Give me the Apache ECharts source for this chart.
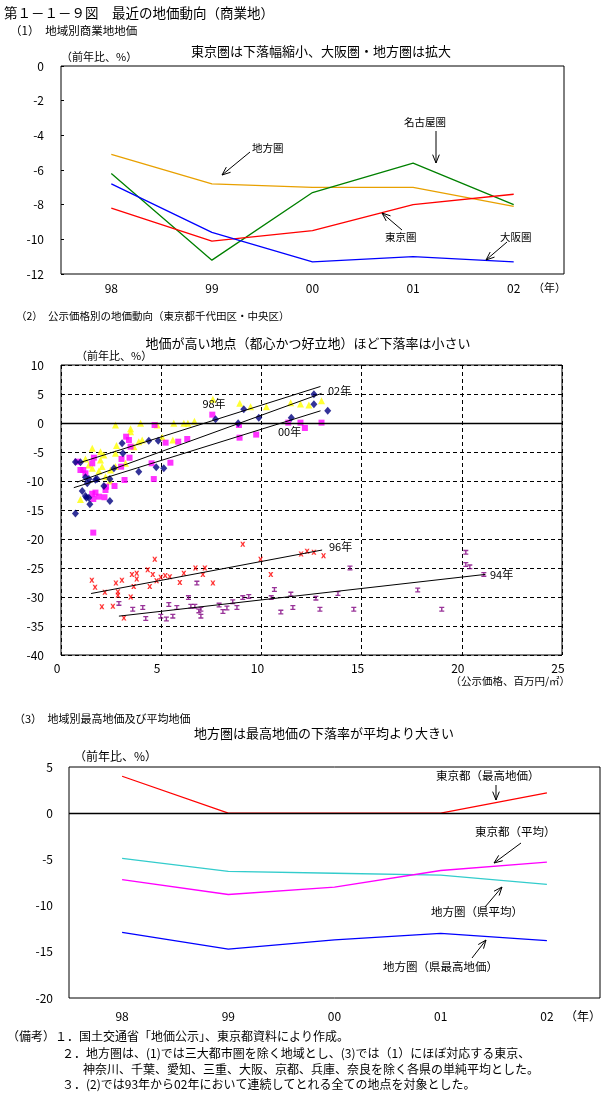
<!DOCTYPE html>
<html><head><meta charset="utf-8">
<script src="https://cdn.jsdelivr.net/npm/echarts@6/dist/echarts.min.js"></script>
<style>html,body{margin:0;padding:0;background:#fff}#c{width:614px;height:1110px}</style>
</head><body><div id="c"></div>
<script>
// ---------- DATA ----------
const years = ['98','99','00','01','02'];
// (1) 地域別商業地地価
const chihou1 = [-5.1, -6.8, -7.0, -7.0, -8.1];
const nagoya1 = [-6.2, -11.2, -7.3, -5.6, -8.0];
const tokyo1  = [-8.2, -10.1, -9.5, -8.0, -7.4];
const osaka1  = [-6.8, -9.6, -11.3, -11.0, -11.3];
// (2) 公示価格別 [価格(百万円/㎡), 前年比%]
const pts98 = [[2.72,-0.34],[3.47,-1.0],[3.47,-1.5],[3.97,-0.06],[4.8,-0.34],[5.05,-2.47],[5.58,-2.93],[5.63,-0.06],[6.13,-0.06],[6.33,-0.06],[6.66,0.3],[2.77,-3.9],[2.72,-5.2],[3.64,-4.08],[3.88,-3.22],[4.05,-2.93],[1.56,-4.37],[1.97,-4.94],[2.14,-5.5],[1.22,-6.2],[1.39,-7.24],[1.56,-7.8],[1.89,-8.28],[2.05,-7.5],[1.97,-6.38],[2.47,-8.1],[2.72,-7.5],[3.22,-6.95],[2.44,-10.0],[0.97,-13.2],[2.22,-9.25],[7.58,4.08],[8.92,3.39],[9.46,2.81],[10.25,2.81],[11.46,3.5],[11.95,3.28],[12.37,3.1],[13.0,3.85]];
const pts00 = [[4.67,-0.34],[3.25,-2.36],[3.39,-2.93],[5.22,-3.39],[5.85,-3.22],[6.3,-2.76],[3.47,-4.08],[3.02,-6.2],[3.42,-5.98],[1.64,-5.98],[1.56,-6.95],[0.81,-6.67],[0.97,-8.1],[1.11,-8.1],[1.22,-8.68],[3.0,-7.53],[3.17,-9.83],[4.52,-6.95],[4.63,-9.66],[5.46,-6.84],[2.25,-10.98],[2.22,-11.55],[2.67,-10.86],[1.56,-12.2],[1.72,-12.0],[1.61,-13.1],[1.89,-12.7],[2.17,-12.8],[1.61,-18.9],[7.55,1.44],[8.88,-0.34],[8.91,-2.53],[9.74,-2.0],[11.34,0.06],[11.95,0.06],[12.17,-0.86],[13.0,0.06]];
const pts02 = [[0.72,-6.72],[0.97,-6.78],[1.22,-9.37],[1.31,-10.4],[1.39,-9.66],[1.72,-9.8],[1.8,-9.66],[2.44,-9.66],[2.14,-10.86],[1.06,-11.72],[1.22,-12.6],[1.39,-12.9],[1.27,-12.9],[1.44,-14.0],[2.44,-13.45],[0.72,-15.6],[2.64,-7.8],[3.05,-3.5],[3.09,-5.23],[3.88,-8.39],[4.38,-3.05],[4.85,-3.05],[4.75,-7.64],[5.13,-7.8],[7.71,0.63],[9.12,2.36],[8.84,-0.06],[9.87,0.92],[11.49,0.92],[12.62,4.94],[12.62,3.22],[13.31,2.13]];
const pts96 = [[9.07,-20.9],[4.68,-23.5],[4.33,-25.3],[1.54,-27.1],[1.7,-28.3],[2.19,-29.2],[2.74,-27.6],[3.04,-27.1],[2.84,-29.1],[2.84,-29.7],[3.54,-26.1],[3.78,-25.9],[3.78,-26.9],[3.63,-28.2],[3.48,-30.0],[4.58,-26.1],[4.43,-28.2],[4.77,-27.2],[4.98,-26.6],[5.2,-26.3],[5.43,-26.5],[5.93,-27.5],[6.13,-25.9],[6.71,-25.0],[7.18,-25.0],[7.08,-26.1],[7.58,-27.6],[2.04,-31.7],[2.59,-31.6],[3.14,-33.6],[9.96,-23.5],[10.47,-26.1],[11.98,-22.6],[12.28,-22.1],[12.62,-22.3],[13.1,-22.9]];
const pts94 = [[6.78,-27.6],[6.36,-30.1],[2.89,-31.1],[3.58,-32.1],[4.08,-31.8],[4.23,-33.7],[4.98,-33.3],[5.26,-33.8],[5.38,-31.3],[5.58,-33.3],[5.78,-31.8],[6.48,-31.6],[6.68,-31.6],[6.88,-32.4],[6.98,-32.1],[6.98,-33.3],[7.89,-31.4],[8.08,-32.5],[8.28,-31.9],[8.57,-30.8],[8.78,-31.8],[9.07,-30.1],[9.37,-29.9],[10.65,-28.7],[10.49,-30.1],[10.97,-32.6],[11.47,-29.5],[11.57,-31.8],[12.72,-30.2],[12.92,-32.1],[13.82,-29.4],[14.42,-25.0],[14.61,-32.1],[17.8,-28.8],[19.0,-32.1],[20.2,-22.3],[20.2,-24.4],[20.4,-24.8],[21.1,-26.1]];
const trend98 = [[0.97,-6.8],[12.95,6.3]];
const trend02 = [[0.8,-10.2],[13.0,5.1]];
const trend00 = [[0.64,-11.15],[12.95,2.1]];
const trend96 = [[1.5,-29.4],[13.03,-21.9]];
const trend94 = [[2.89,-33.3],[21.18,-26.1]];
// (3) 地域別最高地価及び平均地価
const tokyoMax3  = [4.0, 0, 0, 0, 2.2];
const tokyoAvg3  = [-7.2, -8.8, -8.0, -6.2, -5.3];
const chihouAvg3 = [-4.9, -6.3, -6.5, -6.7, -7.7];
const chihouMax3 = [-12.9, -14.7, -13.7, -13.0, -13.8];

// ---------- STYLE ----------
const FF = '"Noto Sans CJK JP","Noto Sans",sans-serif';
const lab = (m, extra) => Object.assign({margin:m, color:'#000', fontSize:12, fontFamily:FF}, extra||{});
const dash = {show:true, lineStyle:{color:'#000', type:[4,3], width:1}};
const noLine = {show:false, onZero:false};

function txt(x, y, s, size, align, extra){
  return Object.assign({type:'text', x:x, y:y, silent:true, z:100,
    style:{text:s, fill:'#000', font:size+'px '+FF, textAlign:align||'left', textVerticalAlign:'middle'}}, extra||{});
}
function arrow(x1,y1,x2,y2){
  const a = Math.atan2(y2-y1, x2-x1), L = 9, w = 0.38;
  return [
    {type:'line', silent:true, z:100, shape:{x1,y1,x2,y2}, style:{stroke:'#000', lineWidth:1}},
    {type:'polyline', silent:true, z:100, shape:{points:[[x2-L*Math.cos(a-w), y2-L*Math.sin(a-w)],[x2,y2],[x2-L*Math.cos(a+w), y2-L*Math.sin(a+w)]]}, style:{stroke:'#000', fill:null, lineWidth:1}}
  ];
}
const line1 = (name, data, color, xi) => ({name, type:'line', xAxisIndex:xi, yAxisIndex:xi, data, symbol:'none', lineStyle:{color, width:1.3}, itemStyle:{color}, z:3});
const trend = (data) => ({type:'line', xAxisIndex:1, yAxisIndex:1, data, symbol:'none', lineStyle:{color:'#000', width:1}, z:4});
const scat = (name, data, symbol, size, color) => ({name, type:'scatter', xAxisIndex:1, yAxisIndex:1, data, symbol, symbolSize:size, itemStyle:{color}, z:3});

const X_PATH = 'path://M0,0L1.6,0L2.5,1.6L3.4,0L5,0L3.4,2.5L5,5L3.4,5L2.5,3.4L1.6,5L0,5L1.6,2.5Z';
const I_PATH = 'path://M0,0H5V1.3H3.2V3.7H5V5H0V3.7H1.8V1.3H0Z';

const graphics = [
  txt(4, 13, '第１－１－９図　最近の地価動向（商業地）', 13.5),
  txt(10, 31, '（1）　地域別商業地地価', 11.5),
  txt(321, 51, '東京圏は下落幅縮小、大阪圏・地方圏は拡大', 13, 'center'),
  txt(61, 57, '（前年比、%）', 11),
  txt(566, 288, '（年）', 11, 'right'),
  txt(252, 148, '地方圏', 10.5), ...arrow(250,152,222,175),
  txt(404, 122, '名古屋圏', 10.5), ...arrow(436,131,436,163),
  txt(385, 237, '東京圏', 10.5), ...arrow(402,230,382,213),
  txt(500, 237, '大阪圏', 10.5), ...arrow(507,242,486,260),

  txt(16, 316, '（2）　公示価格別の地価動向（東京都千代田区・中央区）', 10.5),
  txt(308, 343, '地価が高い地点（都心かつ好立地）ほど下落率は小さい', 13, 'center'),
  txt(76, 356, '（前年比、%）', 11),
  txt(570, 681, '（公示価格、百万円/㎡）', 10.5, 'right'),
  txt(214, 404, '98年', 11, 'center'),
  txt(328, 391, '02年', 11),
  txt(278, 432, '00年', 11),
  txt(329, 547, '96年', 11),
  txt(490, 575, '94年', 11),

  txt(14, 719, '（3）　地域別最高地価及び平均地価', 11),
  txt(324, 733, '地方圏は最高地価の下落率が平均より大きい', 13, 'center'),
  txt(74, 756, '（前年比、%）', 12),
  txt(601, 1016, '（年）', 12, 'right'),
  txt(436, 776, '東京都（最高地価）', 11.5), ...arrow(496,785,496,800),
  txt(475, 832, '東京都（平均）', 11.5), ...arrow(521,843,494,863),
  txt(431, 912, '地方圏（県平均）', 11.5), ...arrow(485,907,502,887),
  txt(383, 967, '地方圏（県最高地価）', 11.5), ...arrow(472,958,486,940),

  txt(7, 1036, '（備考）１．国土交通省「地価公示」、東京都資料により作成。', 12),
  txt(62, 1053, '２．地方圏は、(1)では三大都市圏を除く地域とし、(3)では（1）にほぼ対応する東京、', 12),
  txt(83, 1069, '神奈川、千葉、愛知、三重、大阪、京都、兵庫、奈良を除く各県の単純平均とした。', 12),
  txt(62, 1084, '３．(2)では93年から02年において連続してとれる全ての地点を対象とした。', 12)
];

const option = {
  animation:false,
  backgroundColor:'#fff',
  textStyle:{fontFamily:FF},
  grid:[
    {left:61, top:66, width:503, height:208, show:true, borderColor:'#000', borderWidth:1, backgroundColor:'transparent'},
    {left:61, top:365, width:501, height:290, show:true, borderColor:'#000', borderWidth:1, backgroundColor:'transparent'},
    {left:69, top:767, width:531, height:231, show:true, borderColor:'#000', borderWidth:1, backgroundColor:'transparent'}
  ],
  xAxis:[
    {gridIndex:0, type:'category', data:years, boundaryGap:true, axisLine:noLine, axisTick:{show:false}, splitLine:{show:false}, axisLabel:lab(8)},
    {gridIndex:1, type:'value', min:0, max:25, interval:5, axisLine:noLine, axisTick:{show:true, inside:true, length:3, lineStyle:{color:'#000'}}, splitLine:dash, axisLabel:lab(7, {padding:[0,8,0,0]})},
    {gridIndex:2, type:'category', data:years, boundaryGap:true, axisLine:noLine, axisTick:{show:false}, splitLine:{show:false}, axisLabel:lab(12)}
  ],
  yAxis:[
    {gridIndex:0, type:'value', min:-12, max:0, interval:2, axisLine:noLine, axisTick:{show:true, inside:true, length:3, lineStyle:{color:'#000'}}, splitLine:{show:false}, axisLabel:lab(17)},
    {gridIndex:1, type:'value', min:-40, max:10, interval:5, axisLine:noLine, axisTick:{show:false}, splitLine:dash, axisLabel:lab(17)},
    {gridIndex:2, type:'value', min:-20, max:5, interval:5, axisLine:noLine, axisTick:{show:false}, splitLine:{show:false}, axisLabel:lab(16)}
  ],
  series:[
    line1('地方圏', chihou1, '#E8A000', 0),
    line1('名古屋圏', nagoya1, '#008000', 0),
    line1('東京圏', tokyo1, '#FF0000', 0),
    line1('大阪圏', osaka1, '#0000FF', 0),

    {type:'line', xAxisIndex:1, yAxisIndex:1, data:[], markLine:{silent:true, symbol:'none', label:{show:false}, lineStyle:{color:'#000', type:'solid', width:1.3}, data:[{yAxis:0}]}},
    scat('94年', pts94, I_PATH, 5, '#800080'),
    scat('96年', pts96, X_PATH, 5, '#FF0000'),
    scat('98年', pts98, 'triangle', 7, '#FFFF00'),
    scat('00年', pts00, 'rect', 6, '#FF00FF'),
    scat('02年', pts02, 'diamond', [7,8], '#000080'),
    trend(trend98), trend(trend02), trend(trend00), trend(trend96), trend(trend94),

    {type:'line', xAxisIndex:2, yAxisIndex:2, data:[], markLine:{silent:true, symbol:'none', label:{show:false}, lineStyle:{color:'#000', type:'solid', width:1.3}, data:[{yAxis:0}]}},
    line1('地方圏（県平均）', chihouAvg3, '#33CCCC', 2),
    line1('東京都（平均）', tokyoAvg3, '#FF00FF', 2),
    line1('地方圏（県最高地価）', chihouMax3, '#0000FF', 2),
    line1('東京都（最高地価）', tokyoMax3, '#FF0000', 2)
  ],
  graphic: graphics
};
const chart = echarts.init(document.getElementById('c'), null, {renderer:'canvas'});
chart.setOption(option);
</script></body></html>
